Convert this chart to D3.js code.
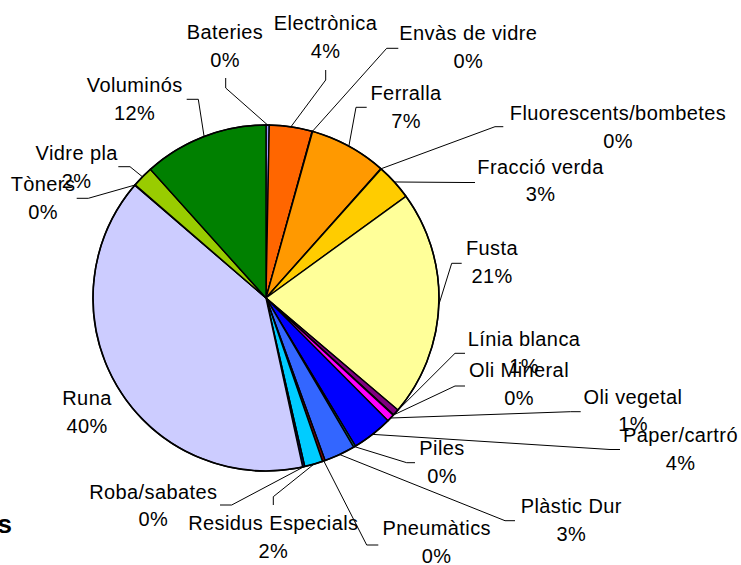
<!DOCTYPE html>
<html>
<head>
<meta charset="utf-8">
<script src="https://cdn.jsdelivr.net/npm/d3@7"></script>
<style>
  html, body { margin: 0; padding: 0; background: #fff; }
  svg { display: block; font-family: "Liberation Sans", Arial, sans-serif; }
</style>
</head>
<body>
<svg id="chart" width="741" height="565"></svg>
<script>
// Waste fractions, clockwise from 12 o'clock
const categories = [
  "Bateries", "Electrònica", "Envàs de vidre", "Ferralla", "Fluorescents/bombetes",
  "Fracció verda", "Fusta", "Línia blanca", "Oli Mineral", "Oli vegetal",
  "Paper/cartró", "Piles", "Plàstic Dur", "Pneumàtics", "Residus Especials",
  "Roba/sabates", "Runa", "Tòners", "Vidre pla", "Voluminós"
];
// share of total (%)
const values = [
  0.3, 4.0, 0.05, 7.2, 0.05,
  3.4, 21.2, 0.6, 0.05, 0.7,
  3.8, 0.2, 2.9, 0.25, 1.7,
  0.2, 39.7, 0.05, 2.0, 11.65
];
const colors = [
  "#9999FF", "#FF6600", "#FF9900", "#FF9900", "#FFCC00",
  "#FFCC00", "#FFFF99", "#800080", "#993366", "#FF00FF",
  "#0000FF", "#008080", "#3366FF", "#800000", "#00CCFF",
  "#000066", "#CCCCFF", "#CCCCFF", "#99CC00", "#008000"
];

// Label placement: [centre x, first-line centre y, elbow x, elbow y, end x, end y]
const labelLayout = {
  "Bateries":              [225, 32, 225.7, 88, 225.7, 78],
  "Electrònica":           [325.5, 23, 325.7, 80, 325.7, 70],
  "Envàs de vidre":        [468.3, 33.3, 386.7, 48.3, 398.3, 48.3],
  "Ferralla":              [406, 93, 356, 107.3, 366.7, 107.3],
  "Fluorescents/bombetes": [618, 113, 495, 126.7, 503.3, 126.7],
  "Fracció verda":         [540.5, 166.7, 465, 182.5, 475, 182.5],
  "Fusta":                 [492, 248, 451.7, 263.3, 461.7, 263.3],
  "Línia blanca":          [524, 338.7, 455, 353.3, 465, 353.3],
  "Oli Mineral":           [519, 370.3, 455, 386, 465, 386],
  "Oli vegetal":           [633, 396.7, 570.7, 411.7, 580.7, 411.7],
  "Paper/cartró":          [680.5, 435, 610, 449.5, 620, 449.5],
  "Piles":                 [442, 448.3, 406.7, 462.7, 415, 462.7],
  "Plàstic Dur":           [571.3, 506, 505, 520.7, 515, 520.7],
  "Pneumàtics":            [436.7, 528.3, 366.7, 545, 378.3, 545],
  "Residus Especials":     [273.3, 523.3, 273.3, 496.7, 273.3, 505],
  "Roba/sabates":          [153.3, 491.7, 231.7, 505, 220, 505],
  "Runa":                  [87, 398.3, null, null, null, null],
  "Tòners":                [43, 184, 88.3, 198.3, 76.7, 198.3],
  "Vidre pla":             [76.7, 153.3, 130, 166.7, 118.3, 166.7],
  "Voluminós":             [134.7, 85, 198.3, 99.3, 186.7, 99.3]
};

const cx = 266, cy = 298, radius = 173;
const lineGap = 27.5;
const svg = d3.select("#chart");

const total = d3.sum(values);
const data = categories.map((c, i) => ({ name: c, value: values[i], color: colors[i] }));

const pie = d3.pie().sort(null).value(d => d.value).startAngle(0).endAngle(2 * Math.PI);
const arcs = pie(data);
const arc = d3.arc().innerRadius(0).outerRadius(radius);

const g = svg.append("g").attr("transform", `translate(${cx},${cy})`);

g.selectAll("path.slice")
  .data(arcs)
  .join("path")
  .attr("class", "slice")
  .attr("d", arc)
  .attr("fill", d => d.data.color)
  .attr("stroke", "#000")
  .attr("stroke-width", 1.4)
  .attr("stroke-linejoin", "round");

// outer rim
g.append("circle").attr("r", radius).attr("fill", "none")
  .attr("stroke", "#000").attr("stroke-width", 1.6);

// leader lines
const leaders = svg.append("g").attr("fill", "none").attr("stroke", "#000").attr("stroke-width", 1);
arcs.forEach(a => {
  const L = labelLayout[a.data.name];
  if (!L || L[2] === null) return;
  const mid = (a.startAngle + a.endAngle) / 2;
  const sx = cx + radius * Math.sin(mid);
  const sy = cy - radius * Math.cos(mid);
  leaders.append("path")
    .attr("d", d3.line()([[sx, sy], [L[2], L[3]], [L[4], L[5]]]));
});

// labels: name + rounded share
const fmtPct = v => Math.round(v / total * 100) + "%";
const labels = svg.append("g")
  .attr("font-size", 20)
  .attr("letter-spacing", "0.4px")
  .attr("fill", "#000")
  .attr("text-anchor", "middle");
arcs.forEach(a => {
  const L = labelLayout[a.data.name];
  const t = labels.append("text");
  t.append("tspan").attr("x", L[0]).attr("y", L[1] + 7).text(a.data.name);
  t.append("tspan").attr("x", L[0]).attr("y", L[1] + 7 + lineGap).text(fmtPct(a.data.value));
});

// tail of the title running off the left edge
svg.append("text")
  .attr("x", 12).attr("y", 533)
  .attr("text-anchor", "end")
  .attr("font-size", 26)
  .attr("font-weight", "bold")
  .text("s");
</script>
</body>
</html>
